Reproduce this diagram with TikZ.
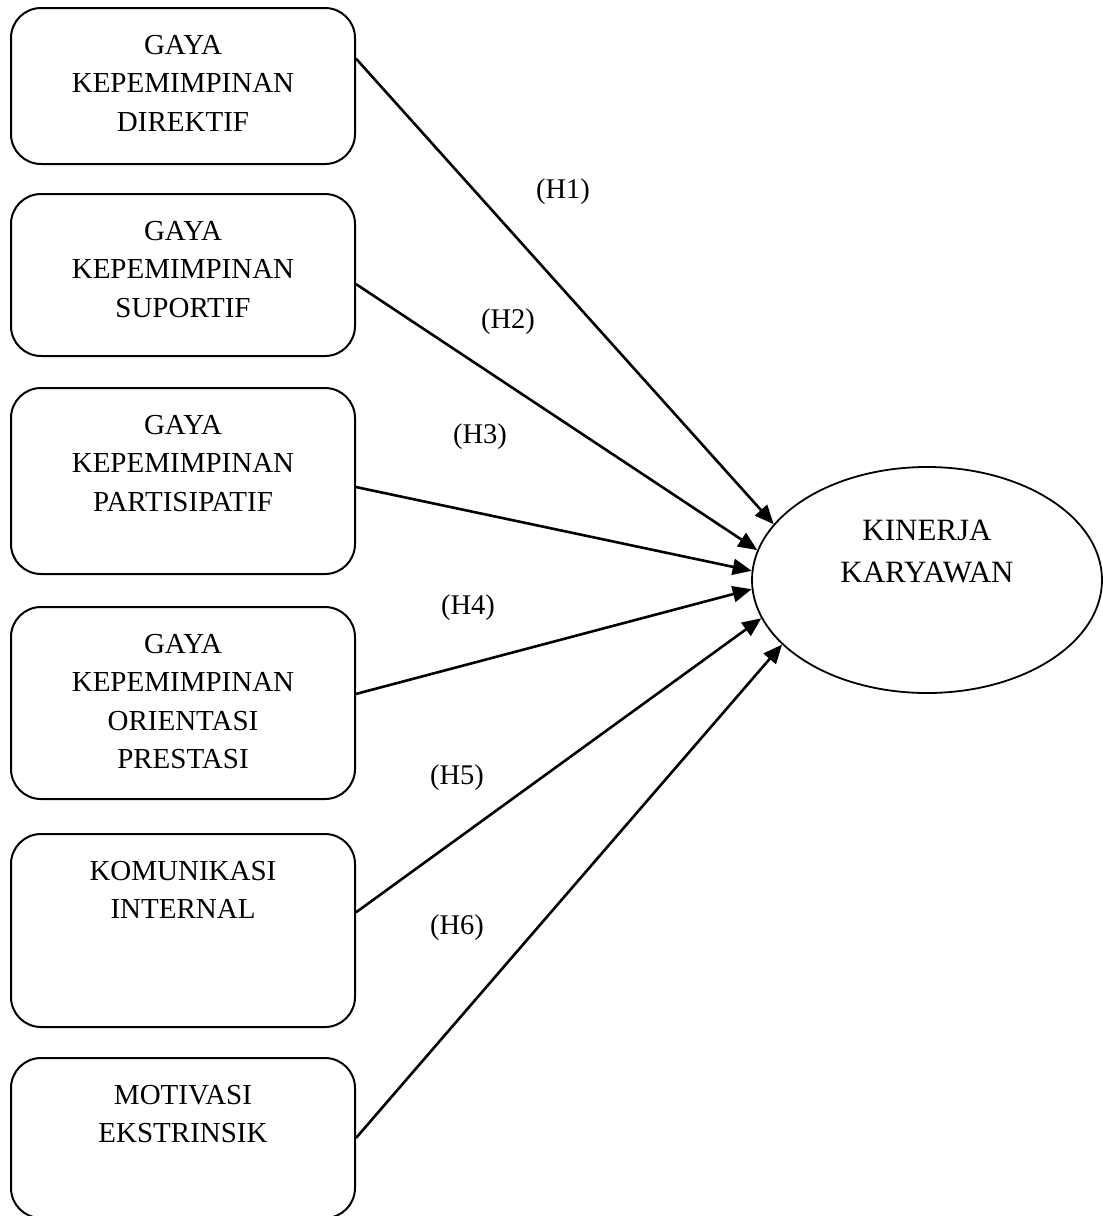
\documentclass[tikz,border=0pt]{standalone}
\usepackage{fontspec}
\setmainfont{Liberation Serif}
\usepackage{tikz}
\usetikzlibrary{arrows.meta,shapes.geometric}

\tikzset{
  varbox/.style={draw,line width=2pt,rounded corners=30pt,text width=344pt,align=center,
    inner xsep=0pt,inner ysep=0pt,text height=46pt,font=\fontsize{29}{38.5}\selectfont},
  depvar/.style={ellipse,draw,line width=1.8pt,text width=200pt,align=center,inner sep=0pt,
    minimum width=350pt,minimum height=226pt,text height=25pt,text depth=105pt,
    font=\fontsize{31}{42}\selectfont},
  hyp/.style={-{Triangle[length=19pt,width=16pt]},line width=2.6pt},
  hyplabel/.style={inner sep=0pt,font=\fontsize{28.5}{34}\selectfont}
}

\begin{document}
\begin{tikzpicture}[x=1pt,y=-1pt]
\path[use as bounding box] (0,0) rectangle (1103,1216);
\path[fill=white,draw=none] (0,0) rectangle (1103,1216);
% variabel independen
\node[varbox,anchor=north,text depth=110pt] (b1) at (183,7) {GAYA\\KEPEMIMPINAN\\DIREKTIF};
\node[varbox,anchor=north,text depth=116pt] (b2) at (183,193) {GAYA\\KEPEMIMPINAN\\SUPORTIF};
\node[varbox,anchor=north,text depth=140pt] (b3) at (183,387) {GAYA\\KEPEMIMPINAN\\PARTISIPATIF};
\node[varbox,anchor=north,text depth=146pt] (b4) at (183,606) {GAYA\\KEPEMIMPINAN\\ORIENTASI\\PRESTASI};
\node[varbox,anchor=north,text depth=147pt] (b5) at (183,833) {KOMUNIKASI\\INTERNAL};
\node[varbox,anchor=north,text depth=114pt] (b6) at (183,1057) {MOTIVASI\\EKSTRINSIK};
% variabel dependen
\node[depvar] (kin) at (927,580) {KINERJA\\KARYAWAN};
% hipotesis
\draw[hyp] (b1.9) -- (kin.160.7);
\draw[hyp] (b2.-3.7) -- (kin.170.3);
\draw[hyp] (b3.-2) -- (kin.177.7);
\draw[hyp] (b4.3.7) -- (kin.183.3);
\draw[hyp] (b5.6.1) -- (kin.193.4);
\draw[hyp] (b6.east) -- (kin.204.2);
\node[hyplabel] (h1) at (563,192) {(H1)};
\node[hyplabel] (h2) at (508,322) {(H2)};
\node[hyplabel] (h3) at (480,437) {(H3)};
\node[hyplabel] (h4) at (468,608) {(H4)};
\node[hyplabel] (h5) at (457,778) {(H5)};
\node[hyplabel] (h6) at (457,928) {(H6)};
\end{tikzpicture}
\end{document}
